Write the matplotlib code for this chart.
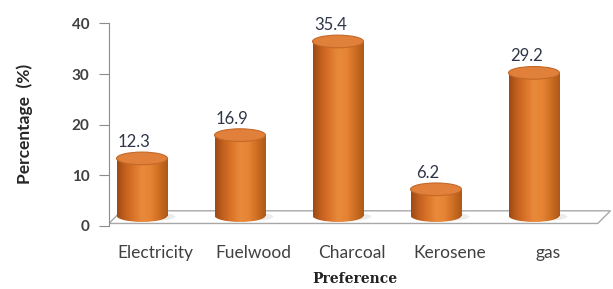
import numpy as np
import matplotlib
matplotlib.use("Agg")
import matplotlib.pyplot as plt
from matplotlib.patches import Ellipse, Polygon
from matplotlib.colors import LinearSegmentedColormap

# datos del grafico
categorias = ["Electricity", "Fuelwood", "Charcoal", "Kerosene", "gas"]
porcentajes = [12.3, 16.9, 35.4, 6.2, 29.2]
yticks = [0, 10, 20, 30, 40]

# estilo de los cilindros
ancho = 0.52
alto_elipse = 2.5
base = 2.05
cmap_cuerpo = LinearSegmentedColormap.from_list(
    "cil", ["#9c4a14", "#c5611f", "#db752b", "#e98a3b", "#e58333", "#cc6d20", "#ad5819"])

fig = plt.figure(figsize=(6.13, 2.89), dpi=100)
ax = fig.add_axes([0.1778, 0.218, 0.8222, 0.7007])
x = np.arange(len(categorias))

# piso en perspectiva
piso = Polygon([[-0.337, 0.5], [4.65, 0.5], [4.78, 3.0], [-0.21, 3.0]],
               closed=True, facecolor="white", edgecolor="#a8a8a8", lw=1.0, zorder=1)
ax.add_patch(piso)

grad = np.linspace(0, 1, 256).reshape(1, -1)
barras = ax.bar(x, [v + 1.05 - base for v in porcentajes], bottom=base, width=ancho,
                color="none", edgecolor="none", zorder=3)

for xi, v, b in zip(x, porcentajes, barras):
    tope = v + 1.05
    # sombra suave en el piso
    ax.add_patch(Ellipse((xi + 0.08, base - 0.2), ancho * 1.0, alto_elipse * 0.7,
                         facecolor="#9a9a9a", alpha=0.18, edgecolor="none", zorder=2))
    # elipse inferior
    el_inf = Ellipse((xi, base), ancho, alto_elipse, facecolor="none", edgecolor="none")
    ax.add_patch(el_inf)
    im1 = ax.imshow(grad, cmap=cmap_cuerpo, aspect="auto", zorder=3,
                    extent=[xi - ancho / 2, xi + ancho / 2, base - alto_elipse, base + 0.1])
    im1.set_clip_path(el_inf)
    # cuerpo
    im2 = ax.imshow(grad, cmap=cmap_cuerpo, aspect="auto", zorder=3,
                    extent=[xi - ancho / 2, xi + ancho / 2, base, tope])
    im2.set_clip_path(b)
    # tapa superior
    ax.add_patch(Ellipse((xi, tope), ancho, alto_elipse, facecolor="#e0803a",
                         edgecolor="#c46828", lw=0.8, zorder=4))
    # etiqueta del valor
    ax.text(xi - 0.08, v + 4.3, f"{v}", ha="center", va="center", fontsize=12,
            family="Lato", color="#2f3548", zorder=5)

ax.set_xlim(-0.337, 4.806)
ax.set_ylim(0, 40)

for s in ["top", "right", "bottom"]:
    ax.spines[s].set_visible(False)
ax.spines["left"].set_color("#8c8c8c")
ax.spines["left"].set_bounds(0, 40)

ax.set_yticks(yticks)
ax.set_yticklabels([str(t) for t in yticks], fontsize=11, family="Lato",
                   fontweight="bold", color="#404040")
ax.tick_params(axis="y", length=7, color="#8c8c8c", pad=7)

ax.set_xticks(x + 0.14)
ax.set_xticklabels(categorias, fontsize=12.5, family="Lato", color="#404040")
ax.tick_params(axis="x", length=0, pad=14)

ax.set_xlabel("Preference", family="DejaVu Serif", fontweight="bold", fontsize=10,
              color="#222222")
ax.xaxis.set_label_coords(0.488, -0.262)
ax.xaxis.label.set_va("center")
ax.set_ylabel("Percentage  (%)", family="Lato", fontweight="bold", fontsize=12.5,
              color="#262626")
ax.yaxis.set_label_coords(-0.1667, 0.504)
ax.yaxis.label.set_va("center")

fig.savefig("out.png", dpi=100)
